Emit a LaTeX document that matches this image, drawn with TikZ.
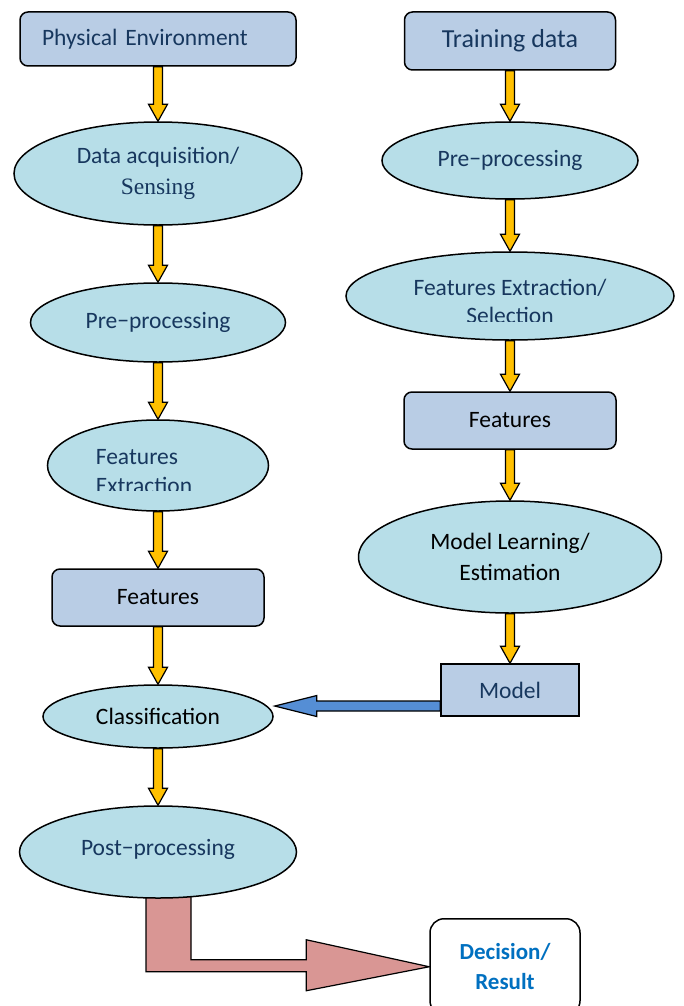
\documentclass[tikz,border=0pt]{standalone}
\usepackage{fontspec}
\setmainfont{Carlito}
\newfontfamily\timesfont{Liberation Serif}
\usetikzlibrary{shapes.geometric, positioning, calc, backgrounds}

\definecolor{boxblue}{HTML}{B9CDE5}
\definecolor{ellblue}{HTML}{B7DEE8}
\definecolor{arrowyellow}{HTML}{FFC000}
\definecolor{arrowpink}{HTML}{D99694}
\definecolor{arrowblue}{HTML}{558ED5}
\definecolor{darktext}{HTML}{17375E}
\definecolor{resultblue}{HTML}{0070C0}

% yellow block arrow from the bottom of one node to the top of the next
\newcommand{\yarrow}[2]{%
  \draw [yarrow] let \p1=(#1.south), \p2=(#2.north) in
    (\x1-4.5pt,\y1) -- (\x1-4.5pt,\y2+17pt) -- (\x1-9.5pt,\y2+17pt) -- (\x1,\y2)
    -- (\x1+9.5pt,\y2+17pt) -- (\x1+4.5pt,\y2+17pt) -- (\x1+4.5pt,\y1) -- cycle;}

\begin{document}
\begin{tikzpicture}[x=1pt, y=-1pt,
  stage/.style={ellipse, draw=black, line width=1.5pt, fill=ellblue, inner sep=0pt,
    text=darktext, align=center, font=\fontsize{23.5}{31}\selectfont},
  databox/.style={rectangle, draw=black, line width=1.5pt, fill=boxblue, rounded corners=8pt,
    text=darktext, align=center, font=\fontsize{23.5}{31}\selectfont},
  yarrow/.style={draw=black, line width=1.2pt, fill=arrowyellow},
  bluearrow/.style={draw=black, line width=1.2pt, fill=arrowblue},
  pinkarrow/.style={draw=black, line width=1.2pt, fill=arrowpink}
]
\useasboundingbox (0,0) rectangle (683,1006);

% recognition chain
\node (phys) [databox, minimum width=276pt, minimum height=54pt, text width=232pt,
  inner xsep=22pt, align=left] at (158,39) {Physical Environment};
\node (acq) [stage, minimum width=288pt, minimum height=103pt, below=54.5pt of phys]
  {Data acquisition/\\{\timesfont Sensing}};
\node (prel) [stage, minimum width=255pt, minimum height=79pt, below=56.5pt of acq] {Pre−processing};
\node (fextl) [stage, minimum width=221pt, minimum height=91pt, below=56.5pt of prel] {};
\node (featl) [databox, text=black, minimum width=212pt, minimum height=57pt, below=56.5pt of fextl] {Features};
\node (class) [stage, text=black, minimum width=230pt, minimum height=63pt, below=57.5pt of featl] {Classification};
\node (post) [stage, minimum width=277pt, minimum height=92pt, below=56.5pt of class]
  {\raisebox{9pt}{Post−processing}};

% training chain
\node (train) [databox, minimum width=211pt, minimum height=58pt,
  font=\fontsize{26}{31}\selectfont] at (510,41) {Training data};
\node (prer) [stage, minimum width=256pt, minimum height=77pt, below=50.5pt of train]
  {\raisebox{5pt}{Pre−processing}};
\node (fextr) [stage, minimum width=328pt, minimum height=88pt, below=51.5pt of prer] {};
\node (featr) [databox, text=black, minimum width=212pt, minimum height=57pt, below=50.5pt of fextr] {Features};
\node (learn) [stage, text=black, minimum width=303pt, minimum height=112pt, below=50.5pt of featr]
  {Model Learning/\\Estimation};
\node (model) [databox, rounded corners=0pt, minimum width=138pt, minimum height=52pt,
  below=49.5pt of learn] {Model};

\node (decision) [databox, fill=white, text=resultblue, rounded corners=14pt,
  minimum width=150pt, minimum height=96pt, anchor=north,
  font=\fontsize{23}{30}\selectfont\bfseries] at (505,918) {Decision/\\Result};

% texts cut off at the bottom
\begin{scope}
  \clip ($(fextl.west)+(0,-50)$) rectangle ($(fextl.east)+(0,25)$);
  \node (fextltext) [text=darktext, align=left, font=\fontsize{23.5}{29}\selectfont]
    at ($(fextl.center)+(-14,6)$) {Features\\Extraction};
\end{scope}
\begin{scope}
  \clip ($(fextr.west)+(0,-50)$) rectangle ($(fextr.east)+(0,25)$);
  \node (fextrtext) [text=darktext, align=center, font=\fontsize{23.5}{28}\selectfont]
    at ($(fextr.center)+(0,5)$) {Features Extraction/\\Selection};
\end{scope}

\yarrow{phys}{acq}
\yarrow{acq}{prel}
\yarrow{prel}{fextl}
\yarrow{fextl}{featl}
\yarrow{featl}{class}
\yarrow{class}{post}

\yarrow{train}{prer}
\yarrow{prer}{fextr}
\yarrow{fextr}{featr}
\yarrow{featr}{learn}
\yarrow{learn}{model}

\draw [bluearrow] let \p1=(model.west), \p2=(class.east) in
  (\x1,\y1-11pt) -- (\x2+43pt,\y1-11pt) -- (\x2+43pt,\y1-5.5pt) -- (\x2+1pt,\y1-16pt)
  -- (\x2+43pt,\y1-26.5pt) -- (\x2+43pt,\y1-21pt) -- (\x1,\y1-21pt) -- cycle;

\begin{scope}[on background layer]
\draw [pinkarrow] let \p1=(post.south), \p2=(decision.west) in
  (\x1-12pt,\y1+3pt) -- (\x1-12pt,\y2-5pt) -- (\x2-123pt,\y2-5pt) -- (\x2-123pt,\y2-24pt)
  -- (\x2,\y2) -- (\x2-123pt,\y2+27pt) -- (\x2-123pt,\y2+7pt) -- (\x1+33pt,\y2+7pt)
  -- (\x1+33pt,\y1+3pt) -- cycle;
\end{scope}

\end{tikzpicture}
\end{document}
